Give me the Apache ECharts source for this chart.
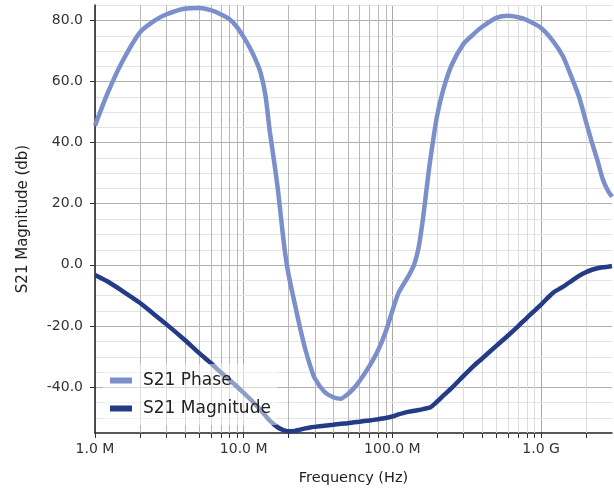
<!DOCTYPE html>
<html>
<head>
<meta charset="utf-8">
<script src="https://cdn.jsdelivr.net/npm/echarts@6/dist/echarts.min.js"></script>
<style>html,body{margin:0;padding:0;background:#fff;}#c{width:614px;height:493px;}</style>
</head>
<body>
<div id="c"></div>
<script>
// Frequencies (Hz)
const freqs = [1e6,1.2e6,1.5e6,2e6,2.5e6,3e6,4e6,5e6,6e6,7e6,8e6,9e6,
  1e7,1.1e7,1.2e7,1.3e7,1.4e7,1.5e7,1.6e7,1.7e7,1.8e7,1.9e7,2e7,2.2e7,2.4e7,2.6e7,2.8e7,3e7,3.5e7,4e7,4.5e7,5e7,5.5e7,6e7,7e7,8e7,9e7,
  1e8,1.1e8,1.2e8,1.3e8,1.4e8,1.5e8,1.6e8,1.7e8,1.8e8,2e8,2.2e8,2.5e8,3e8,3.5e8,4e8,5e8,6e8,7e8,8e8,
  1e9,1.2e9,1.4e9,1.6e9,1.8e9,2e9,2.2e9,2.4e9,2.6e9,2.8e9,3e9];
const phase = [45.5,55.5,65.8,76.0,79.8,81.9,83.8,84.0,83.3,82.0,80.4,77.8,
  74.5,71.0,67.2,62.8,55.5,43.5,34.0,24.5,13.5,3.8,-3.0,-12.5,-20.8,-27.7,-33.0,-37.0,-41.6,-43.3,-43.8,-42.3,-40.4,-38.1,-33.1,-28.0,-22.0,
  -15.0,-9.2,-6.0,-3.2,0.0,5.5,14.5,25.0,34.5,48.8,57.3,65.3,72.2,75.4,77.8,80.8,81.5,81.0,80.1,
  77.5,73.3,68.3,61.5,55.0,47.0,40.0,34.0,28.0,24.5,22.3];
const magnitude = [-3.3,-5.3,-8.3,-12.4,-16.2,-19.3,-24.5,-28.8,-32.1,-35.1,-37.6,-39.8,
  -41.9,-43.8,-45.7,-47.5,-49.3,-51.0,-52.2,-53.2,-53.8,-54.2,-54.4,-54.3,-53.9,-53.5,-53.2,-53.0,-52.6,-52.3,-52.0,-51.8,-51.5,-51.3,-50.9,-50.5,-50.1,
  -49.6,-48.9,-48.4,-48.0,-47.7,-47.5,-47.2,-46.9,-46.6,-44.7,-42.8,-40.3,-36.4,-33.2,-30.7,-26.5,-23.1,-20.1,-17.4,
  -13.0,-9.2,-7.2,-5.3,-3.6,-2.4,-1.6,-1.1,-0.8,-0.6,-0.4];
const seriesNames = ['S21 Phase', 'S21 Magnitude'];
const yTicks = [-40, -20, 0, 20, 40, 60, 80];
const yMinorVals = [-50,-45,-35,-30,-25,-15,-10,-5,5,10,15,25,30,35,45,50,55,65,70,75,85];
const minorFreqs = [2e6,3e6,4e6,5e6,6e6,7e6,8e6,9e6,2e7,3e7,4e7,5e7,6e7,7e7,8e7,9e7,
  2e8,3e8,4e8,5e8,6e8,7e8,8e8,9e8,2e9];
const xMin = 1e6, xMax = 3e9, yMin = -55, yMax = 85;

const chart = echarts.init(document.getElementById('c'), null, {renderer: 'canvas'});
const font = 'DejaVu Sans';
function fmtFreq(v) {
  const l = Math.log10(v);
  if (Math.abs(l - Math.round(l)) > 1e-6) return '';
  if (v >= 1e9) return (v / 1e9).toFixed(1) + ' G';
  return (v / 1e6).toFixed(1) + ' M';
}
chart.setOption({
  animation: false,
  backgroundColor: '#fff',
  textStyle: {fontFamily: font},
  grid: {left: 95, right: 2, top: 5, bottom: 60, containLabel: false},
  legend: {
    data: seriesNames, orient: 'vertical', left: 103, top: 364,
    padding: [8, 6, 8, 7], itemGap: 11, itemWidth: 22, itemHeight: 6, icon: 'rect',
    backgroundColor: 'rgba(255,255,255,0.5)',
    textStyle: {fontSize: 17, color: '#222', fontFamily: font, padding: [0, 0, 0, 6]}
  },
  xAxis: {
    type: 'log', logBase: 10, min: xMin, max: xMax,
    name: 'Frequency (Hz)', nameLocation: 'middle', nameGap: 38,
    nameTextStyle: {fontSize: 14.5, color: '#222', fontFamily: font},
    axisLine: {show: true, onZero: false, lineStyle: {color: '#222', width: 1.5}},
    axisTick: {show: true, length: 5, lineStyle: {color: '#333'}},
    axisLabel: {formatter: fmtFreq, fontSize: 14, color: '#333', margin: 9, showMaxLabel: false},
    splitLine: {show: true, showMaxLine: false, lineStyle: {color: '#a8a8a8', width: 1}},
    minorTick: {show: false}, minorSplitLine: {show: false}
  },
  yAxis: {
    type: 'value', min: yMin, max: yMax, interval: 5,
    name: 'S21 Magnitude (db)', nameLocation: 'middle', nameGap: 64,
    nameTextStyle: {fontSize: 15, color: '#222', fontFamily: font},
    axisLine: {show: true, onZero: false, lineStyle: {color: '#222', width: 1.5}},
    axisTick: {show: true, length: 5, customValues: yTicks, lineStyle: {color: '#333'}},
    axisLabel: {customValues: yTicks, formatter: v => v.toFixed(1), fontSize: 14, color: '#333', margin: 12},
    splitLine: {show: true, lineStyle: {color: '#b0b0b0', width: 1}}
  },
  series: [
    {
      type: 'custom', name: 'minorgridX', silent: true, clip: false, z: 1,
      data: minorFreqs.map(f => [f, 0]),
      encode: {x: 0, y: 1},
      renderItem: function (params, api) {
        const v = api.value(0);
        const t = api.coord([v, yMax]);
        const b = api.coord([v, yMin]);
        const x = Math.round(t[0]) + 0.5;
        const col = v < 1e8 ? '#b8b8b8' : '#dcdcdc';
        return {type: 'group', children: [
          {type: 'line', shape: {x1: x, y1: t[1], x2: x, y2: b[1]}, style: {stroke: col, lineWidth: 1}},
          {type: 'line', shape: {x1: x, y1: b[1], x2: x, y2: b[1] + 5}, style: {stroke: '#333', lineWidth: 1}}
        ]};
      }
    },
    {
      type: 'custom', name: 'minorgridY', silent: true, clip: false, z: 0,
      data: yMinorVals.map(v => [xMin, v]),
      encode: {x: 0, y: 1},
      renderItem: function (params, api) {
        const v = api.value(1);
        const l = api.coord([xMin, v]);
        const r = api.coord([xMax, v]);
        const y = Math.round(l[1]) + 0.5;
        return {type: 'line', shape: {x1: l[0], y1: y, x2: r[0], y2: y}, style: {stroke: '#e4e4e4', lineWidth: 1}};
      }
    },
    {
      type: 'line', name: seriesNames[0], showSymbol: false, z: 2, smooth: 0.25,
      data: freqs.map((f, i) => [f, phase[i]]),
      lineStyle: {color: '#7b8fca', width: 4.5}, itemStyle: {color: '#7b8fca'}
    },
    {
      type: 'line', name: seriesNames[1], showSymbol: false, z: 3, smooth: 0.25,
      data: freqs.map((f, i) => [f, magnitude[i]]),
      lineStyle: {color: '#243b86', width: 4.5}, itemStyle: {color: '#243b86'}
    }
  ]
});
</script>
</body>
</html>
